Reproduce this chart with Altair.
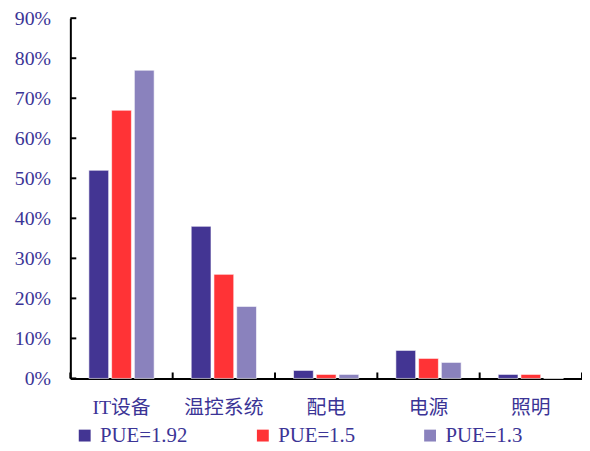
import altair as alt
import pandas as pd

categories = ["IT设备", "温控系统", "配电", "电源", "照明"]
series = ["PUE=1.92", "PUE=1.5", "PUE=1.3"]
pue_192 = [0.52, 0.38, 0.02, 0.07, 0.01]
pue_15 = [0.67, 0.26, 0.01, 0.05, 0.01]
pue_13 = [0.77, 0.18, 0.01, 0.04, 0.0]
y_ticks = [0.0, 0.1, 0.2, 0.3, 0.4, 0.5, 0.6, 0.7, 0.8, 0.9]
colors = ["#433593", "#FF3336", "#8A82BD"]

rows = []
for s, vals in zip(series, [pue_192, pue_15, pue_13]):
    for c, v in zip(categories, vals):
        rows.append({"cat": c, "series": s, "value": v})
df = pd.DataFrame(rows)

W, H = 517, 364
FONT = "Liberation Serif, Noto Sans CJK SC"
TXT = "#3B3496"

x_axis = alt.Axis(title=None, labelAngle=0, ticks=False, labelPadding=19,
                  labelFont=FONT, labelFontSize=20, labelColor=TXT,
                  domainColor="black", domainWidth=2)
y_axis = alt.Axis(title=None, values=y_ticks, format=".0%", ticks=False,
                  grid=False, labelPadding=20, labelFont=FONT,
                  labelFontSize=20, labelColor=TXT,
                  domainColor="black", domainWidth=2)

bars = alt.Chart(df).mark_bar(stroke="white", strokeWidth=0.6).encode(
    x=alt.X("cat:N", sort=categories,
            scale=alt.Scale(paddingInner=0, paddingOuter=0), axis=x_axis),
    xOffset=alt.XOffset("series:N", sort=series,
                        scale=alt.Scale(paddingInner=0.13, paddingOuter=0.815)),
    y=alt.Y("value:Q", scale=alt.Scale(domain=[0, 0.9], nice=False), axis=y_axis),
    color=alt.Color("series:N", sort=series,
                    scale=alt.Scale(domain=series, range=colors),
                    legend=alt.Legend(orient="none", legendX=4, legendY=411,
                                      direction="horizontal", title=None,
                                      symbolType="square", symbolSize=144,
                                      symbolStrokeWidth=0, labelFont=FONT,
                                      labelFontSize=21, labelColor=TXT,
                                      labelOffset=5, columnPadding=65, padding=0)),
)

ytick_df = pd.DataFrame({"t": y_ticks})
yticks = alt.Chart(ytick_df).mark_rule(color="black", strokeWidth=2).encode(
    y=alt.Y("t:Q", title=None),
    x=alt.value(0),
    x2=alt.value(6),
)

xtick_df = pd.DataFrame({"cat": categories})
xticks = alt.Chart(xtick_df).mark_rule(color="black", strokeWidth=2).encode(
    x=alt.X("cat:N", sort=categories, bandPosition=0, title=None),
    y=alt.value(H - 6),
    y2=alt.value(H),
)

end_tick = alt.Chart(pd.DataFrame({"a": [0]})).mark_rule(color="black", strokeWidth=2).encode(
    x=alt.value(W),
    y=alt.value(H - 6),
    y2=alt.value(H),
)

chart = alt.layer(bars, yticks, xticks, end_tick).properties(
    width=W, height=H,
    autosize=alt.AutoSizeParams(type="none"),
    padding={"left": 63, "top": 8, "right": 0, "bottom": 68},
).configure_view(stroke=None)

chart.save("out.html", embed_options={"renderer": "svg", "actions": False})
